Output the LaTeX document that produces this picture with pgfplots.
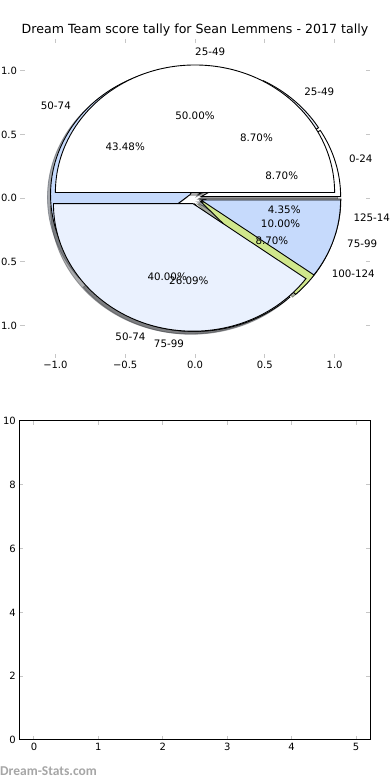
\documentclass[border=0pt]{standalone}
\usepackage{fontspec}
\setmainfont{DejaVu Sans}
\newfontfamily\wmfont{Carlito}
\usepackage{pgfplots}
\usepackage{pgfplotstable}
\pgfplotsset{compat=1.18}
\definecolor{lightest}{RGB}{234,241,254}
\definecolor{bluew}{RGB}{198,218,252}
\definecolor{greenw}{RGB}{208,231,140}

% pie drawn first (behind)
\pgfplotstableread{
label value
0-24 2
25-49 2
50-74 10
75-99 6
100-124 2
125-149 1
}\tabB
% pie drawn second (in front)
\pgfplotstableread{
label value
25-49 5
50-74 4
75-99 1
}\tabA

\def\pieux{139.6pt}
\def\pieuy{127.5pt}
\tikzset{pietext/.style={font=\fontsize{10.3}{12}\selectfont, inner sep=0pt}}

\newcommand{\pietotal}[1]{%
  \pgfplotstablegetrowsof{#1}%
  \pgfmathtruncatemacro{\pielast}{\pgfplotsretval-1}%
  \def\pietot{0}%
  \pgfplotsforeachungrouped \i in {0,...,\pielast}{%
    \pgfplotstablegetelem{\i}{value}\of{#1}%
    \pgfmathsetmacro{\pietot}{\pietot+\pgfplotsretval}}%
}

% #1 table, #2 explode, #3 colour list, #4 mode (0 shadow, 1 wedge, 2 text)
\newcommand{\drawpie}[4]{%
  \pietotal{#1}%
  \def\piecum{0}%
  \pgfplotsforeachungrouped \i in {0,...,\pielast}{%
    \pgfplotstablegetelem{\i}{value}\of{#1}\let\pieval\pgfplotsretval
    \pgfplotstablegetelem{\i}{label}\of{#1}\let\pielab\pgfplotsretval
    \pgfmathparse{{#3}[\i]}\let\piecol\pgfmathresult
    \pgfmathsetmacro{\pieang}{\piecum/\pietot*360}%
    \pgfmathsetmacro{\piecum}{\piecum+\pieval}%
    \pgfmathsetmacro{\pieend}{\piecum/\pietot*360}%
    \pgfmathsetmacro{\piemid}{(\pieang+\pieend)/2}%
    \ifcase#4
      \pgfmathsetmacro{\pcx}{#2*cos(\piemid)-0.022}%
      \pgfmathsetmacro{\pcy}{#2*sin(\piemid)-0.022}%
      \pgfmathsetmacro{\psx}{\pcx+cos(\pieang)}%
      \pgfmathsetmacro{\psy}{\pcy+sin(\pieang)}%
      \edef\piecmd{\noexpand\filldraw[fill=\piecol!30!black, draw=\piecol!30!black, line width=0.8pt, opacity=0.45] (axis cs:\pcx,\pcy) -- (axis cs:\psx,\psy) arc[start angle=\pieang, end angle=\pieend, x radius=\pieux, y radius=\pieuy] -- cycle;}\piecmd
    \or
      \pgfmathsetmacro{\pcx}{#2*cos(\piemid)}%
      \pgfmathsetmacro{\pcy}{#2*sin(\piemid)}%
      \pgfmathsetmacro{\psx}{\pcx+cos(\pieang)}%
      \pgfmathsetmacro{\psy}{\pcy+sin(\pieang)}%
      \edef\piecmd{\noexpand\filldraw[fill=\piecol, draw=black, line width=0.9pt] (axis cs:\pcx,\pcy) -- (axis cs:\psx,\psy) arc[start angle=\pieang, end angle=\pieend, x radius=\pieux, y radius=\pieuy] -- cycle;}\piecmd
    \or
      \pgfmathsetmacro{\plx}{(1.1+#2)*cos(\piemid)}%
      \pgfmathsetmacro{\ply}{(1.1+#2)*sin(\piemid)}%
      \pgfmathsetmacro{\ptx}{(0.6+#2)*cos(\piemid)}%
      \pgfmathsetmacro{\pty}{(0.6+#2)*sin(\piemid)}%
      \pgfmathtruncatemacro{\pieright}{\plx>-0.0001}%
      \ifnum\pieright=1 \def\pieanc{west}\else\def\pieanc{east}\fi
      \pgfmathsetmacro{\piepct}{\pieval*100/\pietot}%
      \pgfmathsetmacro{\piepct}{round(\piepct*100)/100}%
      \pgfmathprintnumberto[fixed,fixed zerofill,precision=2,assume math mode=true]{\piepct}{\piepcttxt}%
      \edef\piecmd{\noexpand\node[pietext, anchor=\pieanc] at (axis cs:\plx,\ply) {\unexpanded\expandafter{\pielab}};
        \noexpand\node[pietext, anchor=center] at (axis cs:\ptx,\pty) {\unexpanded\expandafter{\piepcttxt}\noexpand\%};}\piecmd
    \fi
  }%
}

\begin{document}
\begin{tikzpicture}
\useasboundingbox (0pt,0pt) rectangle (390pt,780pt);
\fill[white] (0pt,0pt) rectangle (390pt,780pt);

\begin{axis}[
  at={(20.5pt,422.4pt)}, anchor=south west,
  width=349pt, height=318.75pt, scale only axis,
  xmin=-1.25, xmax=1.25, ymin=-1.25, ymax=1.25,
  xtick={-1,-0.5,0,0.5,1}, ytick={-1,-0.5,0,0.5,1},
  xticklabels={−1.0,−0.5,0.0,0.5,1.0},
  yticklabels={−1.0,−0.5,0.0,0.5,1.0},
  axis line style={draw=none},
  xtick pos=both, ytick pos=both,
  tick align=inside, major tick length=4pt,
  tick style={gray!45, line width=1pt},
  tick label style={font=\fontsize{10}{12}\selectfont},
  clip=false,
]
\drawpie{\tabB}{0.045}{"white","lightest","bluew","lightest","greenw","white"}{0}
\drawpie{\tabA}{0.045}{"white","lightest","bluew"}{0}
\drawpie{\tabB}{0.045}{"white","lightest","bluew","lightest","greenw","white"}{1}
\drawpie{\tabA}{0.045}{"white","lightest","bluew"}{1}
\drawpie{\tabB}{0.045}{"white","lightest","bluew","lightest","greenw","white"}{2}
\drawpie{\tabA}{0.045}{"white","lightest","bluew"}{2}
\end{axis}

\node[font=\fontsize{12.6}{14}\selectfont] at (195pt,750pt) {Dream Team score tally for Sean Lemmens - 2017 tally};

\begin{axis}[
  at={(19.3pt,40pt)}, anchor=south west,
  width=350.7pt, height=319pt, scale only axis,
  xmin=-0.228, xmax=5.217, ymin=0, ymax=10,
  xtick={0,1,2,3,4,5}, ytick={0,2,4,6,8,10},
  xtick pos=both, ytick pos=both,
  tick align=inside, major tick length=4pt,
  tick style={gray!45, line width=1pt},
  axis line style={black, line width=1pt},
  tick label style={font=\fontsize{10}{12}\selectfont},
  /pgf/number format/assume math mode=true,
]
\end{axis}

\node[anchor=west, text=gray!70, inner sep=0pt] at (0pt,9pt) {\wmfont\bfseries\fontsize{13.5}{14}\selectfont Dream-Stats.com};
\end{tikzpicture}
\end{document}
